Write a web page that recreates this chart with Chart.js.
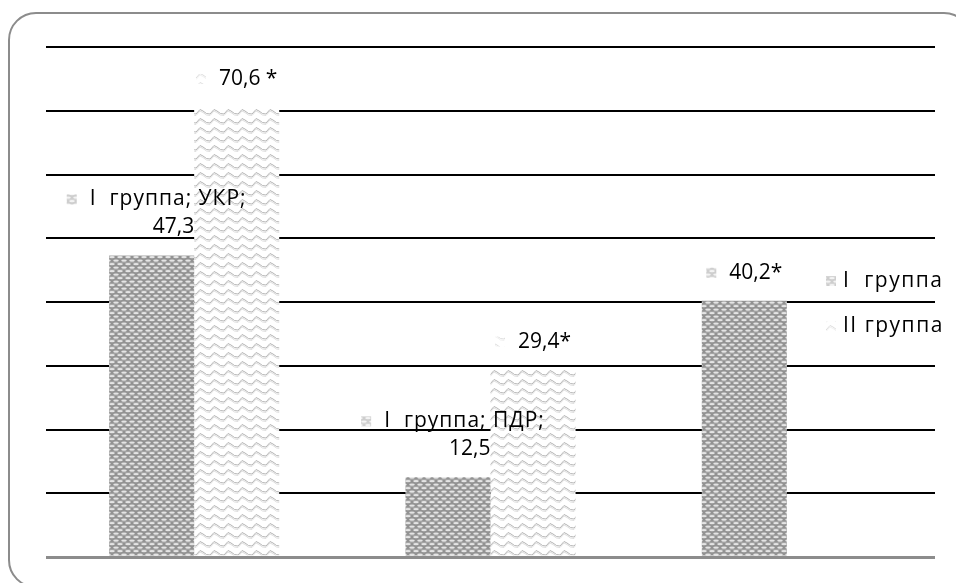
<!DOCTYPE html>
<html>
<head>
<meta charset="utf-8">
<script src="https://cdn.jsdelivr.net/npm/chart.js@4.4.1/dist/chart.umd.min.js"></script>
<style>
  html, body { margin: 0; padding: 0; background: #fff; }
  #wrap { position: relative; width: 956px; height: 583px; overflow: hidden; }
  #frame {
    position: absolute; left: 8px; top: 12px; width: 960px; height: 572px;
    border: 2px solid #8c8c8c; border-radius: 28px; pointer-events: none;
  }
  canvas { position: absolute; left: 0; top: 0; }
</style>
</head>
<body>
<div id="wrap">
  <canvas id="cv" width="956" height="583"></canvas>
  <div id="frame"></div>
</div>
<script>
// data
const categories = ['УКР', 'ПДР', ''];
const seriesNames = ['I  группа', 'II группа'];
const groupI = [47.3, 12.5, 40.2];
const groupII = [70.6, 29.4, null];
const labelsI = [['I  группа; УКР;', '47,3'], ['I  группа; ПДР;', '12,5'], ['40,2*']];
const labelsII = [['70,6 *'], ['29,4*'], null];
const yTicks = [0, 10, 20, 30, 40, 50, 60, 70, 80];

const FONT = '21px "Open Sans", "Liberation Sans", sans-serif';

// hatch-like fills (imitating the Excel pattern fills)
function darkPattern() {
  const c = document.createElement('canvas');
  c.width = 8; c.height = 7;
  const g = c.getContext('2d');
  g.fillStyle = '#929292';
  g.fillRect(0, 0, 8, 7);
  g.fillStyle = '#e4e4e4';
  [[4, 1.6], [0, 5.1], [8, 5.1]].forEach(([x, y]) => {
    g.beginPath();
    g.ellipse(x, y, 2.8, 1.2, 0, 0, Math.PI * 2);
    g.fill();
  });
  g.fillStyle = '#b0b0b0';
  g.fillRect(0, 3, 8, 0.6);
  return g.createPattern(c, 'repeat');
}

function lightPattern() {
  const c = document.createElement('canvas');
  c.width = 14; c.height = 9;
  const g = c.getContext('2d');
  g.fillStyle = '#ffffff';
  g.fillRect(0, 0, 14, 9);
  g.strokeStyle = '#b5b5b5';
  g.lineWidth = 1;
  g.beginPath();
  g.moveTo(0, 6);
  g.lineTo(4, 1.5);
  g.lineTo(7, 3);
  g.lineTo(10.5, 5.5);
  g.lineTo(14, 6);
  g.stroke();
  g.strokeStyle = '#dedede';
  g.beginPath();
  g.moveTo(0, 7.5);
  g.lineTo(4, 3);
  g.lineTo(7, 4.5);
  g.lineTo(10.5, 7);
  g.lineTo(14, 7.5);
  g.stroke();
  return g.createPattern(c, 'repeat');
}

const fills = [darkPattern(), lightPattern()];
const labelSets = [labelsI, labelsII];

// Cyrillic in the original font runs a little wider than the digits
function spacingFor(text) {
  return /[а-яА-Я]/.test(text) ? '1px' : '0px';
}

function drawIcon(ctx, x, y, fill) {
  ctx.save();
  ctx.globalAlpha = 0.45;
  ctx.fillStyle = fill;
  ctx.fillRect(x, y - 5, 10, 10);
  ctx.restore();
}

const barLabels = {
  id: 'barLabels',
  afterDatasetsDraw(chart) {
    const ctx = chart.ctx;
    ctx.save();
    ctx.font = FONT;
    ctx.fillStyle = '#000';
    ctx.textBaseline = 'middle';
    chart.data.datasets.forEach((ds, di) => {
      const meta = chart.getDatasetMeta(di);
      meta.data.forEach((bar, i) => {
        const lines = labelSets[di][i];
        if (!lines || ds.data[i] == null) return;
        const first = lines[0];
        ctx.letterSpacing = spacingFor(first);
        const w = 10 + 13 + ctx.measureText(first).width;
        if (lines.length === 1) {
          const x0 = bar.x - w / 2;
          const y = bar.y - 28;
          drawIcon(ctx, x0, y, fills[di]);
          ctx.textAlign = 'left';
          ctx.fillText(first, x0 + 23, y);
        } else {
          const x0 = bar.x + 5 - w / 2;
          const y1 = bar.y - 56;
          drawIcon(ctx, x0, y1, fills[di]);
          ctx.textAlign = 'left';
          ctx.fillText(first, x0 + 23, y1);
          ctx.letterSpacing = '0px';
          ctx.textAlign = 'right';
          ctx.fillText(lines[1], bar.x + bar.width / 2, bar.y - 28);
        }
      });
    });
    ctx.restore();
  },
  afterDraw(chart) {
    const ctx = chart.ctx;
    ctx.save();
    ctx.font = FONT;
    ctx.letterSpacing = '1.5px';
    ctx.fillStyle = '#000';
    ctx.textBaseline = 'middle';
    ctx.textAlign = 'left';
    const lx = chart.width - 130;
    seriesNames.forEach((name, k) => {
      const y = 281 + k * 45;
      drawIcon(ctx, lx, y, fills[k]);
      ctx.fillText(name, lx + 17, y);
    });
    ctx.restore();
  }
};

new Chart(document.getElementById('cv').getContext('2d'), {
  type: 'bar',
  data: {
    labels: categories,
    datasets: [
      { label: seriesNames[0], data: groupI, backgroundColor: fills[0], borderWidth: 0 },
      { label: seriesNames[1], data: groupII, backgroundColor: fills[1], borderWidth: 0 }
    ]
  },
  options: {
    responsive: false,
    animation: false,
    events: [],
    layout: { padding: { left: 46, right: 21, top: 47, bottom: 26 } },
    datasets: { bar: { categoryPercentage: 0.574, barPercentage: 1 } },
    plugins: { legend: { display: false }, tooltip: { enabled: false } },
    scales: {
      x: { display: false },
      y: {
        min: 0, max: 80,
        afterBuildTicks: s => { s.ticks = yTicks.map(v => ({ value: v })); },
        afterFit: s => { s.width = 0; },
        ticks: { display: false },
        border: { display: false },
        grid: {
          drawTicks: false,
          color: c => c.tick.value === 0 ? '#8c8c8c' : '#000',
          lineWidth: c => c.tick.value === 0 ? 3 : 2
        }
      }
    }
  },
  plugins: [barLabels]
});
</script>
</body>
</html>
